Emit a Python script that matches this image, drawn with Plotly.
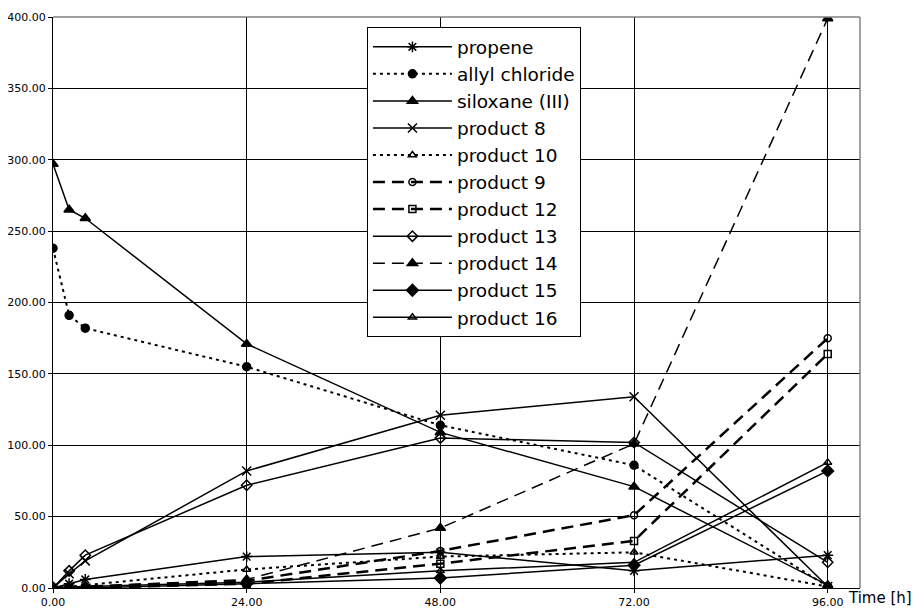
import plotly.graph_objects as go

time_h = [0, 2, 4, 24, 48, 72, 96]

propene = [0, 3, 6, 22, 25, 12, 23]
allyl_chloride = [238, 191, 182, 155, 114, 86, 1]
siloxane = [297, 265, 259, 171, 109, 71, 2]
product_8 = [0, 10, 19, 82, 121, 134, 1]
product_10 = [0, 1, 2, 13, 22, 25, 1]
product_9 = [0, 0, 1, 5, 26, 51, 175]
product_12 = [0, 0, 0, 3, 17, 33, 164]
product_13 = [0, 12, 23, 72, 105, 102, 18]
product_14 = [0, 0, 1, 6, 42, 101, 399]
product_15 = [0, 0, 0, 3, 7, 16, 82]
product_16 = [0, 0, 1, 4, 12, 18, 88]

x_ticks = [0, 24, 48, 72, 96]
y_ticks = [0, 50, 100, 150, 200, 250, 300, 350, 400]

series = [
    ("propene", propene, "solid", 1.5, "asterisk-open", 9),
    ("allyl chloride", allyl_chloride, "3px,4px", 2, "circle", 8),
    ("siloxane (III)", siloxane, "solid", 1.5, "triangle-up", 9),
    ("product 8", product_8, "solid", 1.5, "x-thin-open", 9),
    ("product 10", product_10, "3px,4px", 2, "triangle-up-open", 7),
    ("product 9", product_9, "12px,7px", 2.5, "circle-open", 7),
    ("product 12", product_12, "12px,7px", 2.5, "square-open", 7),
    ("product 13", product_13, "solid", 1.5, "diamond-open", 8),
    ("product 14", product_14, "12px,7px", 1.5, "triangle-up", 9),
    ("product 15", product_15, "solid", 1.5, "diamond", 9),
    ("product 16", product_16, "solid", 1.5, "triangle-up-open", 7),
]

fig = go.Figure()
for name, vals, dash, w, sym, size in series:
    fig.add_trace(go.Scatter(
        x=time_h, y=vals, name=name, mode="lines+markers",
        line=dict(color="black", width=w, dash=dash),
        marker=dict(symbol=sym, size=size, color="black",
                    line=dict(color="black", width=1.5)),
    ))

font = "DejaVu Sans, Arial, sans-serif"
fig.update_layout(
    width=912, height=603,
    margin=dict(l=45, r=60, t=9, b=23, autoexpand=False),
    paper_bgcolor="white", plot_bgcolor="white",
    font=dict(family=font, color="black", size=11),
    showlegend=True,
    legend=dict(
        x=0.389, y=0.982, xanchor="left", yanchor="top",
        bgcolor="white", bordercolor="black", borderwidth=1,
        font=dict(family=font, size=18.5, color="black"),
        itemwidth=79, tracegroupgap=0,
    ),
    xaxis=dict(
        range=[0, 100], tickvals=x_ticks, ticktext=[f"{v:.2f}" for v in x_ticks],
        showgrid=True, gridcolor="black", gridwidth=1,
        showline=True, linecolor="black", linewidth=1,
        ticks="outside", ticklen=4, tickcolor="black",
        zeroline=False, tickfont=dict(size=11), automargin=False,
    ),
    yaxis=dict(
        range=[0, 400], tickvals=y_ticks, ticktext=[f"{v:.2f}" for v in y_ticks],
        showgrid=True, gridcolor="black", gridwidth=1,
        showline=True, linecolor="black", linewidth=1,
        ticks="outside", ticklen=4, tickcolor="black",
        zeroline=False, tickfont=dict(size=11), automargin=False,
    ),
)
fig.add_shape(type="line", xref="paper", yref="paper", x0=1, x1=1, y0=0, y1=1,
              line=dict(color="#808080", width=1.5))
fig.add_shape(type="line", xref="paper", yref="paper", x0=0, x1=1, y0=1, y1=1,
              line=dict(color="#808080", width=1.5))
fig.add_annotation(text="Time [h]", xref="paper", yref="paper", x=0.983, y=0,
                   xanchor="left", yanchor="top", yshift=1, showarrow=False,
                   font=dict(family=font, size=15, color="black"))

fig.write_html("out.html")
